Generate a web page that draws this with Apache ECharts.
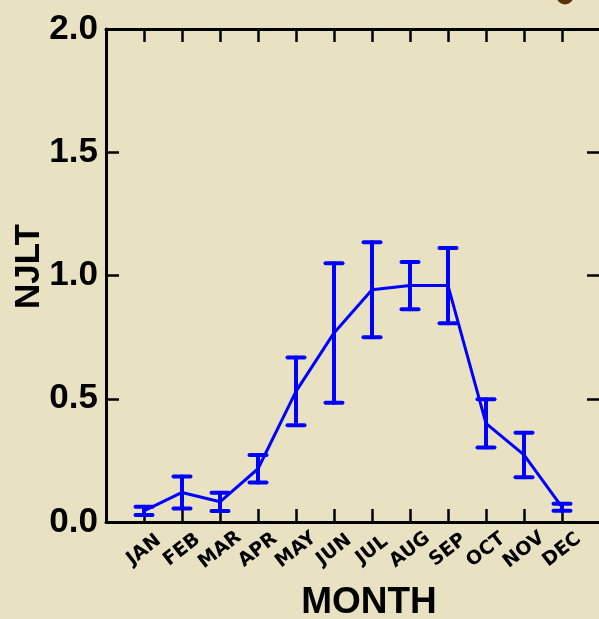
<!DOCTYPE html>
<html>
<head>
<meta charset="utf-8">
<script src="https://cdn.jsdelivr.net/npm/echarts@6/dist/echarts.min.js"></script>
<style>
  html, body { margin: 0; padding: 0; background: #e8e1c2; }
  #chart { width: 599px; height: 619px; }
</style>
</head>
<body>
<div id="chart"></div>
<script>
// Monthly NJLT means with their error half-widths
const months = ['JAN', 'FEB', 'MAR', 'APR', 'MAY', 'JUN', 'JUL', 'AUG', 'SEP', 'OCT', 'NOV', 'DEC'];
const njlt = [0.045, 0.12, 0.082, 0.216, 0.53, 0.767, 0.942, 0.959, 0.959, 0.40, 0.272, 0.06];
const njltErr = [0.017, 0.065, 0.037, 0.056, 0.137, 0.283, 0.193, 0.096, 0.153, 0.098, 0.09, 0.014];
const yTicks = [0, 0.5, 1.0, 1.5, 2.0];

// Padded category list so the months sit at 1..12 inside a 0..13 frame
const xCats = [''].concat(months, ['']);

const chart = echarts.init(document.getElementById('chart'), null, { renderer: 'canvas' });

const BLUE = '#0000ff';
const FONT = 'Liberation Sans, Arial, sans-serif';
const axisLine = { show: true, onZero: false, lineStyle: { color: '#000', width: 3 } };
const tickStyle = { show: true, inside: true, length: 13, lineStyle: { color: '#000', width: 2.5 } };

const linePoints = months.map((m, i) => [m, njlt[i]]);
const errPoints = months.map((m, i) => [m, njlt[i] - njltErr[i], njlt[i] + njltErr[i]]);

chart.setOption({
  backgroundColor: '#e8e1c2',
  animation: false,
  graphic: [{
    type: 'circle',
    shape: { cx: 565, cy: -4, r: 8.5 },
    style: { fill: '#5b300c' },
    silent: true
  }],
  grid: { left: 106, top: 29, right: -1, bottom: 97, outerBoundsMode: 'none', containLabel: false },
  xAxis: [{
    type: 'category',
    data: xCats,
    boundaryGap: false,
    position: 'bottom',
    axisLine: axisLine,
    axisTick: tickStyle,
    splitLine: { show: false },
    axisLabel: {
      interval: 0,
      rotate: 38,
      align: 'center',
      verticalAlign: 'middle',
      margin: 28,
      color: '#000',
      fontFamily: 'DejaVu Sans, Verdana, sans-serif',
      fontWeight: 'bold',
      fontSize: 19
    },
    name: 'MONTH',
    nameLocation: 'middle',
    nameGap: 62,
    nameTextStyle: {
      color: '#000',
      fontFamily: FONT,
      fontWeight: 'bold',
      fontSize: 37,
      padding: [0, 0, 0, 32]
    }
  }, {
    type: 'category',
    data: xCats,
    boundaryGap: false,
    position: 'top',
    axisLine: axisLine,
    axisTick: tickStyle,
    axisLabel: { show: false },
    splitLine: { show: false }
  }],
  yAxis: [{
    type: 'value',
    min: 0,
    max: 2,
    interval: 0.5,
    position: 'left',
    axisLine: axisLine,
    axisTick: tickStyle,
    splitLine: { show: false },
    axisLabel: {
      margin: 8,
      color: '#000',
      fontFamily: FONT,
      fontWeight: 'bold',
      fontSize: 35,
      formatter: v => (yTicks.indexOf(v) >= 0 ? v.toFixed(1) : '')
    },
    name: 'NJLT',
    nameLocation: 'middle',
    nameRotate: 90,
    nameGap: 59,
    nameMoveOverlap: false,
    nameTextStyle: {
      color: '#000',
      fontFamily: FONT,
      fontWeight: 'bold',
      fontSize: 35,
      padding: [0, 0, 0, 18]
    }
  }, {
    type: 'value',
    min: 0,
    max: 2,
    interval: 0.5,
    position: 'right',
    axisLine: axisLine,
    axisTick: tickStyle,
    axisLabel: { show: false },
    splitLine: { show: false }
  }],
  series: [{
    type: 'line',
    data: linePoints,
    xAxisIndex: 0,
    yAxisIndex: 0,
    showSymbol: false,
    symbol: 'none',
    lineStyle: { color: BLUE, width: 3 },
    z: 3
  }, {
    type: 'custom',
    data: errPoints,
    xAxisIndex: 0,
    yAxisIndex: 0,
    z: 4,
    renderItem: function (params, api) {
      const x = api.value(0);
      const lo = api.coord([x, api.value(1)]);
      const hi = api.coord([x, api.value(2)]);
      const cap = 8.5;
      const style = { stroke: BLUE, lineWidth: 4, lineCap: 'round' };
      return {
        type: 'group',
        children: [
          { type: 'line', shape: { x1: lo[0], y1: lo[1], x2: hi[0], y2: hi[1] }, style: style },
          { type: 'line', shape: { x1: hi[0] - cap, y1: hi[1], x2: hi[0] + cap, y2: hi[1] }, style: style },
          { type: 'line', shape: { x1: lo[0] - cap, y1: lo[1], x2: lo[0] + cap, y2: lo[1] }, style: style }
        ]
      };
    }
  }]
});
</script>
</body>
</html>
